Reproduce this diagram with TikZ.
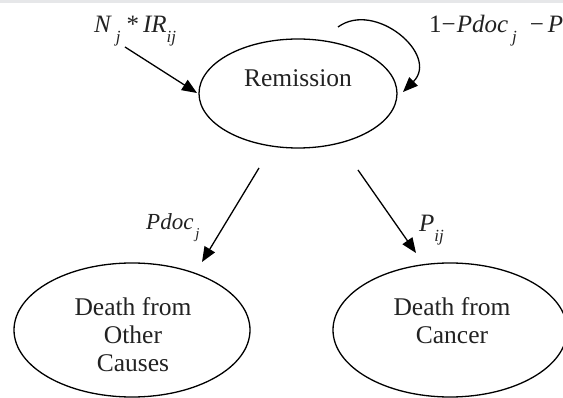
\documentclass[tikz,border=0pt]{standalone}
\usepackage{fontspec}
\setmainfont{Liberation Serif}
\usetikzlibrary{shapes.geometric,arrows.meta}
\definecolor{bandgray}{RGB}{230,231,233}
\definecolor{inkgray}{RGB}{34,34,34}
\newcommand{\sbx}[1]{\raisebox{-10pt}{\fontsize{17}{17}\selectfont\itshape #1}}
\begin{document}
\begin{tikzpicture}[x=1pt,y=-1pt,
  state/.style={draw, line width=1.3pt, ellipse, inner sep=0pt},
  txt/.style={font=\fontsize{25.5}{28}\selectfont, text=inkgray, align=center, inner sep=0pt},
  lab/.style={font=\fontsize{25}{28}\selectfont, text=inkgray, inner sep=0pt, anchor=base west},
  arr/.style={line width=1.3pt, -{Triangle[length=15pt,width=12pt]}}]
\useasboundingbox (0,0) rectangle (563,398);
\fill[bandgray] (0,0) rectangle (563,3);
% states
\node[state, minimum width=198pt, minimum height=109pt] (rem) at (298,93.5) {};
\node[txt] (remt) at (298,78) {Remission};
\node[state, minimum width=236pt, minimum height=134pt] (oth) at (132,330) {};
\node[txt] (otht) at (133,335) {Death from\\Other\\Causes};
\node[state, minimum width=234pt, minimum height=134pt] (can) at (450,330) {};
\node[txt] (cant) at (452,321) {Death from\\Cancer};
% connector end points
\coordinate (inS) at (125,47);
\coordinate (inE) at (197,93);
\coordinate (loopS) at (338,27);
\coordinate (loopE) at (403,92);
\coordinate (lS) at (259,168);
\coordinate (lE) at (202,262);
\coordinate (rS) at (358,170);
\coordinate (rE) at (416,253);
% connectors
\draw[arr] (inS) -- (inE);
\draw[arr] (loopS) .. controls (375,0) and (440,55) .. (loopE);
\draw[arr] (lS) -- (lE);
\draw[arr] (rS) -- (rE);
% labels
\node[lab] (l1) at (94,33) {\itshape N\hspace{5pt}\sbx{j}\hspace{6pt}\upshape*\hspace{4pt}\itshape IR\sbx{ij}};
\node[lab] (l2) at (429,33) {1−\hspace{1pt}\itshape Pdoc\hspace{4pt}\sbx{j}\hspace{13pt}\upshape −\hspace{4pt}\itshape P};
\node[lab, font=\fontsize{23}{26}\selectfont] (l3) at (146,230) {\itshape Pdoc\hspace{2pt}\raisebox{-9pt}{\fontsize{15}{15}\selectfont\itshape j}};
\node[lab] (l4) at (419,232) {\itshape P\sbx{ij}};
\end{tikzpicture}
\end{document}
